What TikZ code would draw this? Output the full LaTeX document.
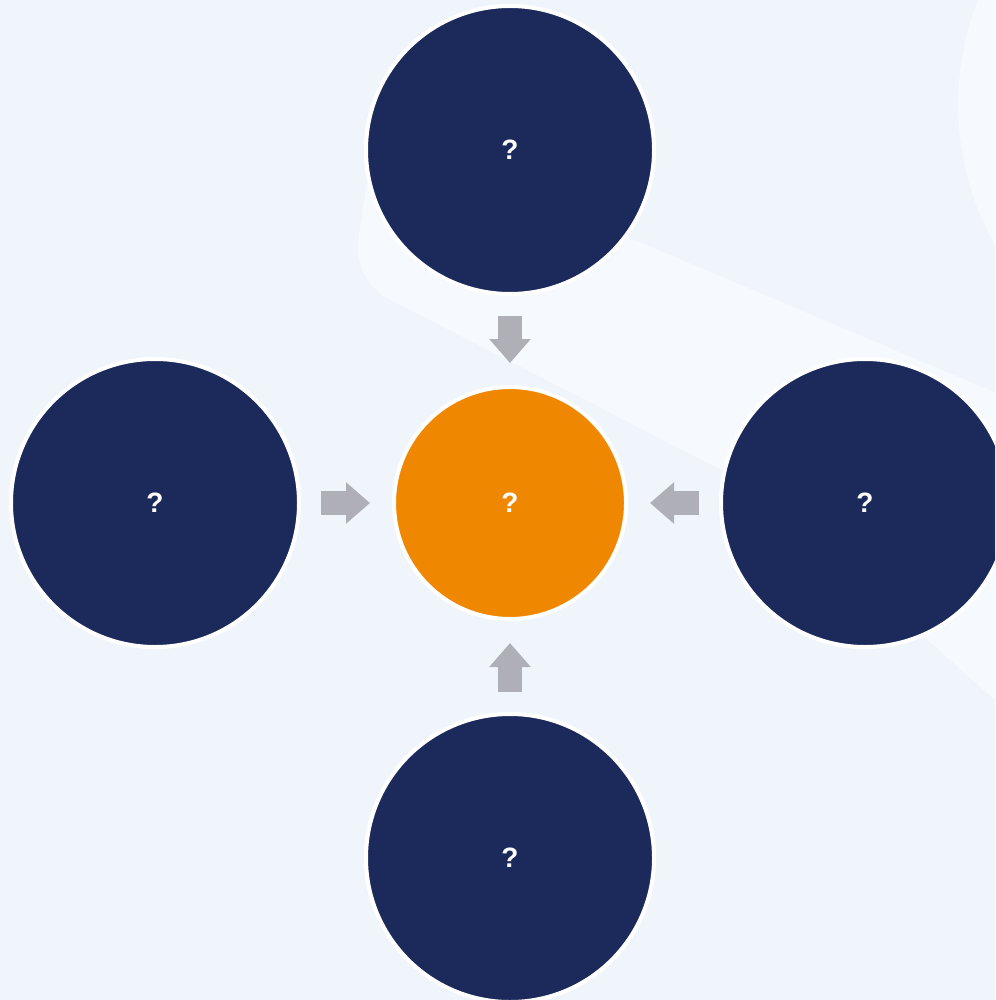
\documentclass[tikz,border=0pt]{standalone}
\usepackage{fontspec}
\setmainfont{Liberation Sans}
\usetikzlibrary{arrows.meta}

\definecolor{bgblue}{HTML}{F0F5FC}
\definecolor{bglight}{HTML}{F6F9FD}
\definecolor{navy}{HTML}{1B295B}
\definecolor{hubor}{HTML}{F08700}
\definecolor{arrgray}{HTML}{AFAFB7}

\tikzset{
	outer/.style={circle, fill=navy, draw=white, line width=4pt, inner sep=0pt,
		minimum size=288pt, text=white, font=\fontsize{28}{32}\selectfont\bfseries},
	hubnode/.style={outer, fill=hubor, minimum size=232pt},
	flow/.style={draw=arrgray, line width=24pt, shorten <=20pt, shorten >=22pt,
		-{Triangle[width=40pt,length=24pt]}}
}

\begin{document}
\begin{tikzpicture}[x=1pt,y=-1pt]

\useasboundingbox (0,0) rectangle (995,1000);
\clip (0,0) rectangle (995,1000);

% background
\fill[bgblue] (0,0) rectangle (995,1000);
\fill[bglight] (1241,105) circle (283);
\fill[bglight, rounded corners=40pt] (1150,458) -- (375,130) -- (352,280) -- (760,490) -- (1150,839) -- cycle;

\node[hubnode] (hub) at (510,503)	{?};

\node[outer] (n1) at (510,150)	{?};
\node[outer] (n2) at (155,503)	{?};
\node[outer] (n3) at (865,503)	{?};
\node[outer] (n4) at (510,858)	{?};

\path (n1) edge [flow] (hub);
\path (n2) edge [flow] (hub);
\path (n3) edge [flow] (hub);
\path (n4) edge [flow] (hub);

\end{tikzpicture}
\end{document}
